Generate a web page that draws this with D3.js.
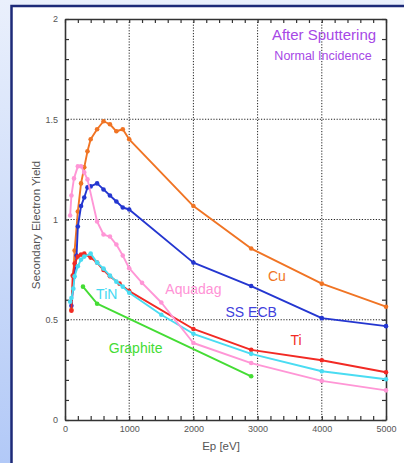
<!DOCTYPE html>
<html>
<head>
<meta charset="utf-8">
<script src="https://cdn.jsdelivr.net/npm/d3@7"></script>
<style>
  body { margin: 0; padding: 0; overflow: hidden; }
  svg { display: block; font-family: "Liberation Sans", Arial, sans-serif; }
</style>
</head>
<body>
<svg id="chart" width="404" height="463"></svg>
<script>
// Secondary electron yield vs primary energy [eV]
const cu = [[100,0.55],[130,0.72],[150,0.845],[200,1.04],[250,1.18],[300,1.26],[350,1.34],[400,1.40],[500,1.45],[600,1.49],[700,1.475],[800,1.44],[900,1.45],[1000,1.40],[2000,1.067],[2900,0.855],[4000,0.68],[5000,0.565]];
const ssEcb = [[100,0.57],[140,0.715],[180,0.82],[200,0.965],[250,1.067],[300,1.11],[350,1.16],[400,1.165],[500,1.18],[600,1.15],[700,1.12],[800,1.09],[900,1.06],[1000,1.05],[2000,0.785],[2900,0.668],[4000,0.508],[5000,0.468]];
const ti = [[100,0.545],[120,0.72],[150,0.78],[200,0.815],[250,0.825],[300,0.83],[400,0.81],[500,0.785],[600,0.748],[700,0.717],[850,0.68],[1000,0.643],[2000,0.454],[2900,0.35],[4000,0.298],[5000,0.238]];
const tin = [[80,0.59],[100,0.608],[130,0.655],[150,0.717],[200,0.767],[250,0.80],[300,0.815],[400,0.83],[500,0.785],[600,0.755],[700,0.72],[800,0.69],[900,0.665],[1000,0.635],[1500,0.525],[2000,0.43],[2900,0.33],[4000,0.243],[5000,0.203]];
const aquadag = [[80,1.02],[100,1.12],[140,1.205],[200,1.265],[250,1.265],[300,1.235],[350,1.20],[500,0.99],[600,0.925],[700,0.915],[800,0.875],[900,0.82],[1000,0.757],[1200,0.684],[1500,0.586],[2000,0.384],[2900,0.284],[4000,0.195],[5000,0.148]];
const graphite = [[280,0.665],[500,0.58],[2900,0.218]];

const seriesNames = ['Cu', 'SS ECB', 'Ti', 'TiN', 'Aquadag', 'Graphite'];
const seriesData = [cu, ssEcb, ti, tin, aquadag, graphite];
const seriesColors = ['#f07424', '#2436d0', '#f22a24', '#4adcf2', '#ff96d6', '#44dc34'];
const labelColors = ['#f07424', '#4040dc', '#f22a24', '#44d8f2', '#ff92d6', '#44dc34'];
// label anchor points in data units
const labelPos = [[3300,0.72],[2900,0.54],[3600,0.40],[650,0.63],[2000,0.655],[1100,0.36]];

const xMajor = [0, 1000, 2000, 3000, 4000, 5000];
const xTicks = d3.range(26).map(i => i * 200);
const yTicks = d3.range(21).map(i => i / 10);
const xGrid = [1000, 2000, 3000, 4000];
const yGrid = [0.5, 1, 1.5];

const svg = d3.select('#chart');

// background + panel
const defs = svg.append('defs');
const grad = defs.append('linearGradient').attr('id', 'bg').attr('x1', 0).attr('y1', 0).attr('x2', 0).attr('y2', 1);
grad.append('stop').attr('offset', '0%').attr('stop-color', '#eaf0fc');
grad.append('stop').attr('offset', '100%').attr('stop-color', '#b2c9f7');
svg.append('rect').attr('width', 404).attr('height', 463).attr('fill', 'url(#bg)');
svg.append('rect').attr('x', 11.5).attr('y', 6).attr('width', 400).attr('height', 470)
  .attr('fill', '#fff').attr('stroke', '#1d2a78').attr('stroke-width', 2.5);

const pLeft = 65, pRight = 386, pTop = 19, pBottom = 420;
const x = d3.scaleLinear().domain([0, 5000]).range([pLeft, pRight]);
const y = d3.scaleLinear().domain([0, 2]).range([pBottom, pTop]);

// dotted grid
const grid = svg.append('g').attr('stroke', '#222').attr('stroke-width', 1).attr('stroke-dasharray', '1.2,1.6');
grid.selectAll('.gx').data(xGrid).join('line').attr('class', 'gx')
  .attr('x1', d => x(d)).attr('x2', d => x(d)).attr('y1', pTop).attr('y2', pBottom);
grid.selectAll('.gy').data(yGrid).join('line').attr('class', 'gy')
  .attr('y1', d => y(d)).attr('y2', d => y(d)).attr('x1', pLeft).attr('x2', pRight);

const isMajorY = d => Math.round(d * 10) % 5 === 0;

const axB = svg.append('g').attr('transform', `translate(0,${pBottom})`)
  .call(d3.axisBottom(x).tickValues(xTicks).tickSize(-4).tickSizeOuter(0).tickPadding(6)
    .tickFormat(d => xMajor.includes(d) ? d : ''));
const axL = svg.append('g').attr('transform', `translate(${pLeft},0)`)
  .call(d3.axisLeft(y).tickValues(yTicks).tickSize(-4).tickSizeOuter(0).tickPadding(7)
    .tickFormat(d => isMajorY(d) ? d3.format('')(Math.round(d * 10) / 10) : ''));
const axT = svg.append('g').attr('transform', `translate(0,${pTop})`)
  .call(d3.axisTop(x).tickValues(xTicks).tickSize(-4).tickSizeOuter(0).tickFormat(''));
const axR = svg.append('g').attr('transform', `translate(${pRight},0)`)
  .call(d3.axisRight(y).tickValues(yTicks).tickSize(-4).tickSizeOuter(0).tickFormat(''));

[axB, axL, axT, axR].forEach(a => {
  a.select('.domain').attr('stroke', '#333').attr('stroke-width', 1.6);
  a.selectAll('.tick line').attr('stroke', '#333').attr('stroke-width', 1.2);
  a.selectAll('.tick text').attr('fill', '#555').attr('font-size', 9)
    .attr('font-family', '"Liberation Sans", Arial, sans-serif');
});

// axis titles
svg.append('text').attr('x', 221).attr('y', 446).attr('text-anchor', 'middle')
  .attr('dominant-baseline', 'central').attr('font-size', 11.5).attr('fill', '#555').text('Ep [eV]');
svg.append('text').attr('transform', 'translate(36,225) rotate(-90)').attr('text-anchor', 'middle')
  .attr('dominant-baseline', 'central').attr('font-size', 11.5).attr('fill', '#555').text('Secondary Electron Yield');

// series
const line = d3.line().x(d => x(d[0])).y(d => y(d[1]));
seriesData.forEach((data, i) => {
  const g = svg.append('g');
  g.append('path').datum(data).attr('fill', 'none').attr('stroke', seriesColors[i])
    .attr('stroke-width', 1.9).attr('stroke-linejoin', 'round').attr('d', line);
  g.selectAll('circle').data(data).join('circle')
    .attr('cx', d => x(d[0])).attr('cy', d => y(d[1])).attr('r', 2.3).attr('fill', seriesColors[i]);
});

// series labels
svg.selectAll('.lab').data(seriesNames).join('text').attr('class', 'lab')
  .attr('x', (d, i) => x(labelPos[i][0])).attr('y', (d, i) => y(labelPos[i][1]))
  .attr('text-anchor', 'middle').attr('dominant-baseline', 'central')
  .attr('font-size', 14).attr('fill', (d, i) => labelColors[i]).text(d => d);

// title
svg.append('text').attr('x', 324).attr('y', 34).attr('text-anchor', 'middle')
  .attr('dominant-baseline', 'central').attr('font-size', 15).attr('fill', '#a648e6').text('After Sputtering');
svg.append('text').attr('x', 323).attr('y', 56).attr('text-anchor', 'middle')
  .attr('dominant-baseline', 'central').attr('font-size', 12.5).attr('fill', '#a648e6').text('Normal Incidence');
</script>
</body>
</html>
